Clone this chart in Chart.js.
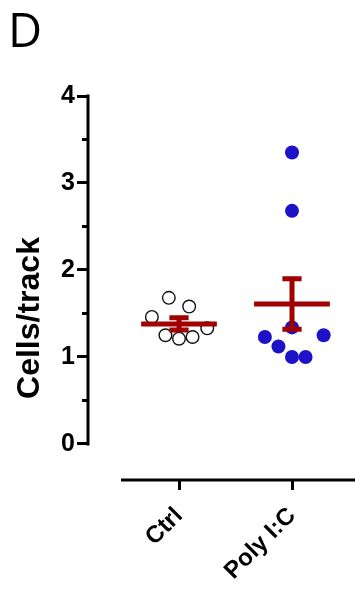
<!DOCTYPE html>
<html><head><meta charset="utf-8">
<script src="https://cdn.jsdelivr.net/npm/chart.js@4/dist/chart.umd.min.js"></script>
<style>html,body{margin:0;padding:0;background:#fff;} canvas{display:block;}</style>
</head><body>
<canvas id="c" width="355" height="589"></canvas>
<script>
// ---- data ----
const categories = ['Ctrl', 'Poly I:C'];
const ctrlValues = [1.68, 1.58, 1.46, 1.33, 1.25, 1.21, 1.23];
const ctrlJitter = [-0.09, 0.09, -0.24, 0.25, -0.12, 0.00, 0.12];
const polyValues = [3.35, 2.68, 1.34, 1.23, 1.25, 1.12, 1.00, 1.00];
const polyJitter = [0.00, 0.00, 0.00, -0.24, 0.28, -0.12, 0.00, 0.12];
const groupMeans = [1.38, 1.61];
const groupSEM = [0.07, 0.29];
const yTickValues = [0, 1, 2, 3, 4];
const yMinorTickValues = [0.5, 1.5, 2.5, 3.5];
const yAxisTitle = 'Cells/track';
const panelLabel = 'D';

// ---- build datasets ----
const MEAN_HALF = 0.335, CAP_HALF = 0.085;
const RED = '#a00000', BLUE = '#1d12c8';
const meanPts = [], errPts = [], capPts = [];
groupMeans.forEach((m, i) => {
  const x = i + 1, s = groupSEM[i];
  meanPts.push({x: x - MEAN_HALF, y: m}, {x: x + MEAN_HALF, y: m}, {x: x, y: null});
  errPts.push({x: x, y: m - s}, {x: x, y: m + s}, {x: x, y: null});
  capPts.push({x: x - CAP_HALF, y: m + s}, {x: x + CAP_HALF, y: m + s}, {x: x, y: null},
              {x: x - CAP_HALF, y: m - s}, {x: x + CAP_HALF, y: m - s}, {x: x, y: null});
});
const ctrlPts = ctrlValues.map((v, i) => ({x: 1 + ctrlJitter[i], y: v}));
const polyPts = polyValues.map((v, i) => ({x: 2 + polyJitter[i], y: v}));

const FONT = '"Liberation Sans", Arial, sans-serif';

const decor = {
  id: 'decor',
  afterDraw(chart) {
    const {ctx, chartArea, scales: {x, y}} = chart;
    const left = chartArea.left;
    ctx.save();
    ctx.strokeStyle = '#000'; ctx.lineWidth = 3; ctx.lineCap = 'butt';
    ctx.beginPath();
    ctx.moveTo(left, y.getPixelForValue(yTickValues[yTickValues.length - 1]) - 1.5);
    ctx.lineTo(left, y.getPixelForValue(yTickValues[0]) + 1.5);
    ctx.stroke();
    yMinorTickValues.forEach(v => {
      const py = y.getPixelForValue(v);
      ctx.beginPath(); ctx.moveTo(left - 6, py); ctx.lineTo(left, py); ctx.stroke();
    });
    ctx.beginPath();
    ctx.moveTo(left + 33, chartArea.bottom); ctx.lineTo(chartArea.right, chartArea.bottom);
    ctx.stroke();
    // y title
    ctx.fillStyle = '#000';
    ctx.font = 'bold 32px ' + FONT;
    ctx.textAlign = 'center'; ctx.textBaseline = 'middle';
    ctx.save();
    ctx.translate(30, (y.getPixelForValue(4) + chartArea.bottom) / 2 + 30);
    ctx.rotate(-Math.PI / 2);
    ctx.fillText(yAxisTitle, 0, 0);
    ctx.restore();
    // panel label
    ctx.font = '47px "Open Sans", "Noto Sans", sans-serif';
    ctx.textAlign = 'left'; ctx.textBaseline = 'alphabetic';
    ctx.fillText(panelLabel, 8, 47);
    ctx.restore();
  }
};

new Chart(document.getElementById('c'), {
  type: 'scatter',
  data: {
    datasets: [
      {type: 'line', data: meanPts, borderColor: RED, borderWidth: 5, pointRadius: 0, borderCapStyle: 'butt', order: 1},
      {type: 'line', data: errPts, borderColor: RED, borderWidth: 5, pointRadius: 0, borderCapStyle: 'butt', order: 1},
      {type: 'line', data: capPts, borderColor: RED, borderWidth: 5, pointRadius: 0, borderCapStyle: 'butt', order: 1},
      {label: categories[0], data: ctrlPts, pointRadius: 6.3, pointBorderWidth: 1.4,
       pointBorderColor: '#111', pointBackgroundColor: 'rgba(0,0,0,0)', order: 2},
      {label: categories[1], data: polyPts, pointRadius: 7, pointBorderWidth: 0,
       pointBackgroundColor: BLUE, pointBorderColor: BLUE, order: 2}
    ]
  },
  options: {
    responsive: false,
    animation: false,
    layout: {autoPadding: false, padding: {top: 96, left: 0, right: 0, bottom: 0}},
    plugins: {legend: {display: false}, tooltip: {enabled: false}},
    scales: {
      x: {
        type: 'linear', min: 0.1947, max: 2.5575,
        afterBuildTicks: s => { s.ticks = categories.map((c, i) => ({value: i + 1})); },
        afterFit: s => { s.height = 109; s.paddingLeft = 0; s.paddingRight = 0; },
        ticks: {
          autoSkip: false, minRotation: 45, maxRotation: 45, padding: 12,
          color: '#000', font: {family: FONT, size: 24, weight: 'bold'},
          callback: v => categories[Math.round(v) - 1]
        },
        grid: {display: true, drawOnChartArea: false, drawTicks: true, tickLength: 10, tickWidth: 3, tickColor: '#000'},
        border: {display: false}
      },
      y: {
        type: 'linear', min: -0.414, max: 4,
        afterBuildTicks: s => { s.ticks = yTickValues.map(v => ({value: v})); },
        afterFit: s => { s.width = 88; s.paddingTop = 0; s.paddingBottom = 0; },
        ticks: {color: '#000', padding: 2, font: {family: FONT, size: 25, weight: 'bold'}, callback: v => String(v)},
        grid: {display: true, drawOnChartArea: false, drawTicks: true, tickLength: 11, tickWidth: 3, tickColor: '#000'},
        border: {display: false}
      }
    }
  },
  plugins: [decor]
});
</script>
</body></html>
